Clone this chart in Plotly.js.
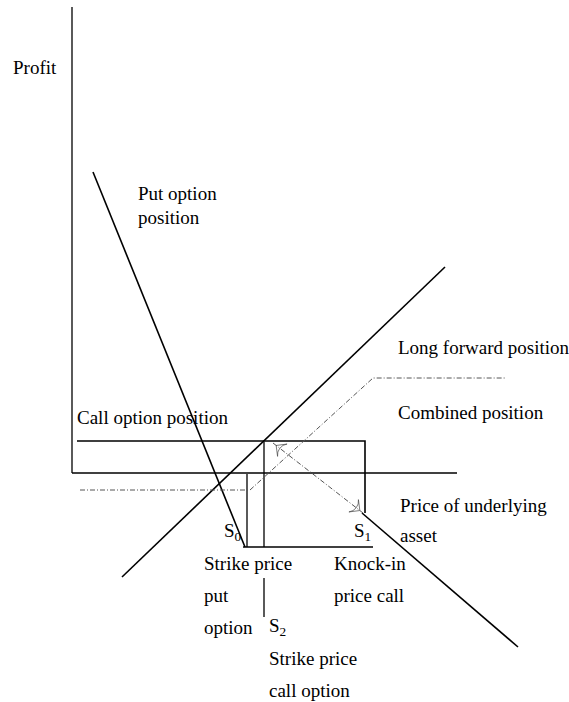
<!DOCTYPE html>
<html>
<head>
<meta charset="utf-8">
<script src="https://cdn.plot.ly/plotly-3.0.1.min.js"></script>
<style>
  html, body { margin: 0; padding: 0; background: #fff; }
  #plot { width: 569px; height: 702px; }
</style>
</head>
<body>
<div id="plot"></div>
<script>
// Axes of the diagram (price of underlying asset, profit)
const profitAxisPrice = [0, 0];
const profitAxisProfit = [0, 466];
const priceAxisPrice = [0, 385];
const priceAxisProfit = [0, 0];

// Payoff lines
const putOptionPrice = [21, 173];
const putOptionProfit = [301, -74];
const forwardPrice = [50, 373];
const forwardProfit = [-104, 206];
const callOptionPrice = [5, 293, 293];
const callOptionProfit = [32, 32, -40];
const knockInPrice = [290, 446];
const knockInProfit = [-40, -174];
const combinedPrice = [8, 178, 301, 433];
const combinedProfit = [-17, -17, 95, 95];

// Strike price markers
const strikePutPrice = [175, 175];
const strikePutProfit = [-1, -74];
const strikeCallPrice = [192, 192, null, 192, 192];
const strikeCallProfit = [31, -74, null, -105, -144];
const strikeBasePrice = [171, 301];
const strikeBaseProfit = [-74, -74];

// Dashed double arrow between S2 and S1
const arrowPrice = [201, 291];
const arrowProfit = [30, -40];

// Text labels
const labelText = [
  "Profit", "Put option", "position", "Long forward position", "Combined position",
  "Call option position", "Price of underlying", "asset", "S<sub>0</sub>", "S<sub>1</sub>",
  "Strike price", "put", "option", "Knock-in", "price call", "S<sub>2</sub>",
  "Strike price", "call option",
];
const labelPrice = [-61, 64, 64, 324, 324, 3, 326, 326, 150, 280, 130, 130, 130, 260, 260, 195, 195, 195];
const labelProfit = [406, 280, 256, 126, 61, 56, -32, -62, -59, -59, -90, -122, -154, -90, -122, -154, -185, -217];

/**
 * Build a plain line trace
 * @param {*} x - Price values
 * @param {*} y - Profit values
 * @param {object} style - Line style
 */
function lineTrace(x, y, style) {
  return {
    x: x,
    y: y,
    mode: "lines",
    type: "scatter",
    line: style,
    hoverinfo: "skip",
    showlegend: false,
  };
}

/**
 * Build an open arrow head at one end of the dashed arrow
 * @param {number} i - Index of the arrow end in arrowPrice/arrowProfit
 * @param {number} j - Index of the other end
 */
function arrowHead(i, j) {
  let dx = arrowPrice[i] - arrowPrice[j];
  let dy = arrowProfit[i] - arrowProfit[j];
  let len = Math.sqrt(dx * dx + dy * dy);
  return {
    x: [arrowPrice[i] - (dx * 6) / len, arrowPrice[i] - (dx * 4) / len],
    y: [arrowProfit[i] - (dy * 6) / len, arrowProfit[i] - (dy * 4) / len],
    mode: "markers",
    type: "scatter",
    marker: {
      symbol: "arrow-wide-open",
      angleref: "previous",
      size: [0, 11],
      color: "#444",
      line: { color: "#444", width: 1 },
    },
    hoverinfo: "skip",
    showlegend: false,
  };
}

const solid = { color: "#000", width: 1.6 };
const thin = { color: "#000", width: 1.3 };
const dashed = { color: "#555", width: 1, dash: "5px,2px,1px,2px" };

let traces = [
  lineTrace(profitAxisPrice, profitAxisProfit, thin),
  lineTrace(priceAxisPrice, priceAxisProfit, solid),
  lineTrace(putOptionPrice, putOptionProfit, solid),
  lineTrace(forwardPrice, forwardProfit, solid),
  lineTrace(callOptionPrice, callOptionProfit, solid),
  lineTrace(knockInPrice, knockInProfit, solid),
  lineTrace(strikePutPrice, strikePutProfit, thin),
  lineTrace(strikeCallPrice, strikeCallProfit, thin),
  lineTrace(strikeBasePrice, strikeBaseProfit, solid),
  lineTrace(combinedPrice, combinedProfit, dashed),
  lineTrace(arrowPrice, arrowProfit, dashed),
  arrowHead(0, 1),
  arrowHead(1, 0),
];

// Text annotations
let annotations = labelText.map((text, i) => ({
  x: labelPrice[i],
  y: labelProfit[i],
  text: text,
  showarrow: false,
  xanchor: "left",
  yanchor: "middle",
  font: { family: "Times New Roman, Liberation Serif, DejaVu Serif, serif", size: 19, color: "#000" },
}));

let layout = {
  width: 569,
  height: 702,
  margin: { l: 0, r: 0, t: 0, b: 0 },
  paper_bgcolor: "#fff",
  plot_bgcolor: "#fff",
  font: { family: "Times New Roman, Liberation Serif, DejaVu Serif, serif" },
  xaxis: { range: [-72, 497], visible: false, fixedrange: true },
  yaxis: { range: [-229, 473], visible: false, fixedrange: true },
  annotations: annotations,
  showlegend: false,
};

Plotly.newPlot("plot", traces, layout, { staticPlot: true, displayModeBar: false });
</script>
</body>
</html>
